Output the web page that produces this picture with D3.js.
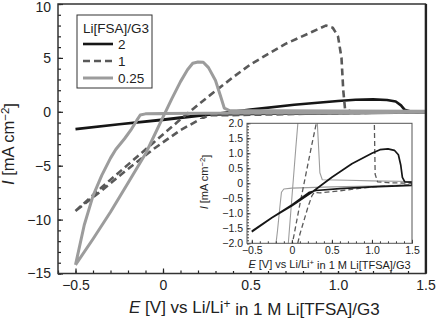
<!DOCTYPE html>
<html>
<head>
<meta charset="utf-8">
<script src="https://cdn.jsdelivr.net/npm/d3@7"></script>
<style>
    body { margin: 0; background: #fff; }
    svg { display: block; font-family: "Liberation Sans", Arial, Helvetica, sans-serif; }
</style>
</head>
<body>
<svg id="chart" width="437" height="320"></svg>
<script>
/* cyclic voltammograms, E [V] vs current density I [mA cm-2] */

const legendLabels = ["2", "1", "0.25"];

// Li[FSA]/G3 = 2 (black, solid)
const potential2 = [-0.5, -0.25, 0, 0.25, 0.5, 0.75, 1.0, 1.1, 1.2, 1.28, 1.33, 1.36, 1.38, 1.41, 1.5,
    1.5, 1.0, 0.6, 0.3, 0.22, 0, -0.25, -0.5];
const current2 = [-1.6, -1.15, -0.75, -0.3, 0.2, 0.65, 1.0, 1.12, 1.15, 1.1, 0.95, 0.6, 0.2, 0.05, 0.04,
    -0.07, -0.12, -0.18, -0.24, -0.3, -0.72, -1.15, -1.62];

// Li[FSA]/G3 = 1 (dark grey, dashed)
const potential1 = [-0.5, -0.35, -0.2, -0.05, 0.1, 0.25, 0.4, 0.5, 0.7, 0.85, 0.93, 0.97, 1.0, 1.02, 1.03, 1.04, 1.07, 1.2, 1.5,
    1.5, 1.0, 0.6, 0.35, 0.28, 0.25, 0.2, 0.1, -0.05, -0.2, -0.35, -0.5];
const current1 = [-9.2, -7.0, -4.9, -2.8, -0.7, 1.3, 3.2, 4.4, 6.3, 7.4, 8.0, 7.8, 7.0, 5.0, 2.0, 0.3, 0.05, 0.02, 0.0,
    -0.05, -0.12, -0.25, -0.32, -0.3, -0.42, -0.8, -1.7, -3.4, -5.3, -7.3, -9.2];

// Li[FSA]/G3 = 0.25 (light grey, solid)
const potential025 = [-0.5, -0.4, -0.3, -0.2, -0.1, -0.05, 0, 0.05, 0.1, 0.14, 0.17, 0.2, 0.23, 0.26, 0.3, 0.33, 0.35, 0.38, 0.7, 1.0, 1.5,
    1.5, 1.0, 0.5, 0, -0.1, -0.13, -0.15, -0.18, -0.22, -0.27, -0.3, -0.35, -0.4, -0.45, -0.5];
const current025 = [-14.2, -11.8, -9.3, -6.6, -3.9, -2.2, -0.5, 1.2, 2.8, 3.9, 4.5, 4.62, 4.6, 4.1, 2.9, 1.4, 0.35, 0.12, 0.1, 0.08, 0.06,
    -0.05, -0.09, -0.12, -0.16, -0.19, -0.3, -0.8, -1.6, -2.5, -3.5, -4.3, -5.9, -7.8, -10.5, -14.2];

const mainXTicks = [-0.5, 0, 0.5, 1.0, 1.5];
const mainYTicks = [-15, -10, -5, 0, 5, 10];
const insetXTicks = [-0.5, 0, 0.5, 1.0, 1.5];
const insetYTicks = [-2, -1.5, -1, -0.5, 0, 0.5, 1, 1.5, 2];

const series = [
    { label: legendLabels[0], e: potential2, i: current2, color: "#161616", width: 2.6, dash: null, insetWidth: 1.7, insetDash: null },
    { label: legendLabels[1], e: potential1, i: current1, color: "#595959", width: 2.6, dash: "7,4", insetWidth: 1.3, insetDash: "5,3" },
    { label: legendLabels[2], e: potential025, i: current025, color: "#9c9c9c", width: 3, dash: null, insetWidth: 1.1, insetDash: null }
];

const svg = d3.select("#chart");
const ink = "#222";

const fmt = d => (d === 0 ? "0" : d3.format(".1f")(d)).replace("-", "\u2212");
const fmtInt = d => String(d).replace("-", "\u2212");

// ---------- main plot ----------
const x = d3.scaleLinear().domain([-0.6, 1.5]).range([58, 425.5]);
const y = d3.scaleLinear().domain([-15, 10]).range([273.5, 4]);

const main = svg.append("g").classed("main", true);

const line = d3.line().x(d => x(d[0])).y(d => y(d[1]));

const drawAxes = (g, xs, ys, opt) => {
    const [x0] = xs.range();
    const [y0] = ys.range();
    g.append("g")
        .attr("transform", `translate(0,${y0})`)
        .call(d3.axisBottom(xs).tickValues(opt.xMinor).tickSize(-opt.minor).tickFormat(""))
        .call(a => a.select(".domain").remove());
    g.append("g")
        .attr("transform", `translate(0,${y0})`)
        .call(d3.axisBottom(xs).tickValues(opt.xTicks).tickSize(-opt.major).tickPadding(opt.xPad).tickFormat(fmt))
        .call(a => a.select(".domain").remove());
    g.append("g")
        .attr("transform", `translate(${x0},0)`)
        .call(d3.axisLeft(ys).tickValues(opt.yMinor).tickSize(-opt.minor).tickFormat(""))
        .call(a => a.select(".domain").remove());
    g.append("g")
        .classed("y-major", true)
        .attr("transform", `translate(${x0},0)`)
        .call(d3.axisLeft(ys).tickValues(opt.yTicks).tickSize(-opt.major).tickPadding(opt.yPad).tickFormat(opt.yFmt))
        .call(a => a.select(".domain").remove());
    g.selectAll(".tick line").attr("stroke", ink).attr("stroke-width", opt.tickWidth);
    g.selectAll(".tick text").attr("fill", ink).attr("font-size", opt.font).attr("font-family", null);
};

series.forEach(s => {
    main.append("path")
        .datum(d3.zip(s.e, s.i))
        .attr("d", line)
        .attr("fill", "none")
        .attr("stroke", s.color)
        .attr("stroke-width", s.width)
        .attr("stroke-dasharray", s.dash)
        .attr("stroke-linejoin", "round");
});

drawAxes(main, x, y, {
    xTicks: mainXTicks, yTicks: mainYTicks,
    xMinor: d3.range(-0.6, 1.501, 0.1), yMinor: d3.range(-15, 10.01, 1),
    major: 5, minor: 3, xPad: 7, yPad: 7, font: 14, tickWidth: 1.2, yFmt: fmtInt
});
// keep the top label inside the picture
main.select(".y-major").selectAll(".tick text").filter(d => d === 10).attr("dy", "0.55em");

// frame
main.append("rect")
    .attr("x", x.range()[0]).attr("y", y.range()[1])
    .attr("width", x.range()[1] - x.range()[0]).attr("height", y.range()[0] - y.range()[1])
    .attr("fill", "none").attr("stroke", "#333").attr("stroke-width", 1.5);
main.append("line")
    .attr("x1", x.range()[1] + 0.5).attr("x2", x.range()[1] + 0.5)
    .attr("y1", y.range()[1]).attr("y2", y.range()[0])
    .attr("stroke", "#222").attr("stroke-width", 2.2);

// axis titles
const xTitle = main.append("text")
    .attr("x", 129).attr("y", 313)
    .attr("font-size", 17).attr("fill", ink);
xTitle.append("tspan").attr("font-style", "italic").text("E");
xTitle.append("tspan").text(" [V] vs Li/Li");
xTitle.append("tspan").attr("dy", "-0.45em").attr("font-size", "70%").text("+");
xTitle.append("tspan").attr("dy", "0.45em").text(" in 1 M Li[TFSA]/G3");

const yTitle = main.append("text")
    .attr("transform", "translate(14,144) rotate(-90)")
    .attr("text-anchor", "middle")
    .attr("font-size", 16.5).attr("fill", ink);
yTitle.append("tspan").attr("font-style", "italic").text("I");
yTitle.append("tspan").text(" [mA cm");
yTitle.append("tspan").attr("dy", "-0.45em").attr("font-size", "70%").text("\u22122");
yTitle.append("tspan").attr("dy", "0.45em").text("]");

// legend
const legend = main.append("g").classed("legend", true);
legend.append("rect")
    .attr("x", 77).attr("y", 15).attr("width", 75).attr("height", 73)
    .attr("fill", "#fff").attr("stroke", "#333").attr("stroke-width", 1);
legend.append("text")
    .attr("x", 83).attr("y", 33)
    .attr("font-size", 13.5).attr("fill", ink)
    .text("Li[FSA]/G3");
series.forEach((s, k) => {
    const ly = 44 + k * 17;
    legend.append("line")
        .attr("x1", 83).attr("x2", 113).attr("y1", ly).attr("y2", ly)
        .attr("stroke", s.color).attr("stroke-width", s.width)
        .attr("stroke-dasharray", s.dash);
    legend.append("text")
        .attr("x", 118).attr("y", ly + 5)
        .attr("font-size", 13.5).attr("fill", ink)
        .text(s.label);
});

// ---------- inset ----------
const ix = d3.scaleLinear().domain([-0.56, 1.5]).range([247, 412]);
const iy = d3.scaleLinear().domain([-2, 2]).range([243.3, 123.3]);

const inset = svg.append("g").classed("inset", true);

inset.append("rect")
    .attr("x", 200).attr("y", 119).attr("width", 224).attr("height", 152)
    .attr("fill", "#fff");

svg.append("defs").append("clipPath").attr("id", "inset-clip")
    .append("rect")
    .attr("x", ix.range()[0]).attr("y", iy.range()[1])
    .attr("width", ix.range()[1] - ix.range()[0]).attr("height", iy.range()[0] - iy.range()[1]);

const iline = d3.line().x(d => ix(d[0])).y(d => iy(d[1]));

const insetCurves = inset.append("g").attr("clip-path", "url(#inset-clip)");
series.slice().reverse().forEach(s => {
    insetCurves.append("path")
        .datum(d3.zip(s.e, s.i))
        .attr("d", iline)
        .attr("fill", "none")
        .attr("stroke", s.color)
        .attr("stroke-width", s.insetWidth)
        .attr("stroke-dasharray", s.insetDash)
        .attr("stroke-linejoin", "round");
});

drawAxes(inset, ix, iy, {
    xTicks: insetXTicks, yTicks: insetYTicks,
    xMinor: d3.range(-0.5, 1.501, 0.1), yMinor: d3.range(-2, 2.001, 0.1),
    major: 3.5, minor: 2, xPad: 3.5, yPad: 4, font: 10.5, tickWidth: 0.9, yFmt: fmt
});

inset.append("rect")
    .attr("x", ix.range()[0]).attr("y", iy.range()[1])
    .attr("width", ix.range()[1] - ix.range()[0]).attr("height", iy.range()[0] - iy.range()[1])
    .attr("fill", "none").attr("stroke", "#555").attr("stroke-width", 1);

const ixTitle = inset.append("text")
    .attr("x", (ix.range()[0] + ix.range()[1]) / 2).attr("y", 268)
    .attr("text-anchor", "middle")
    .attr("font-size", 11).attr("fill", ink);
ixTitle.append("tspan").attr("font-style", "italic").text("E");
ixTitle.append("tspan").text(" [V] vs Li/Li");
ixTitle.append("tspan").attr("dy", "-0.45em").attr("font-size", "70%").text("+");
ixTitle.append("tspan").attr("dy", "0.45em").text(" in 1 M Li[TFSA]/G3");

const iyTitle = inset.append("text")
    .attr("transform", "translate(208,182) rotate(-90)")
    .attr("text-anchor", "middle")
    .attr("font-size", 11).attr("fill", ink);
iyTitle.append("tspan").attr("font-style", "italic").text("I");
iyTitle.append("tspan").text(" [mA cm");
iyTitle.append("tspan").attr("dy", "-0.45em").attr("font-size", "70%").text("\u22122");
iyTitle.append("tspan").attr("dy", "0.45em").text("]");
</script>
</body>
</html>
